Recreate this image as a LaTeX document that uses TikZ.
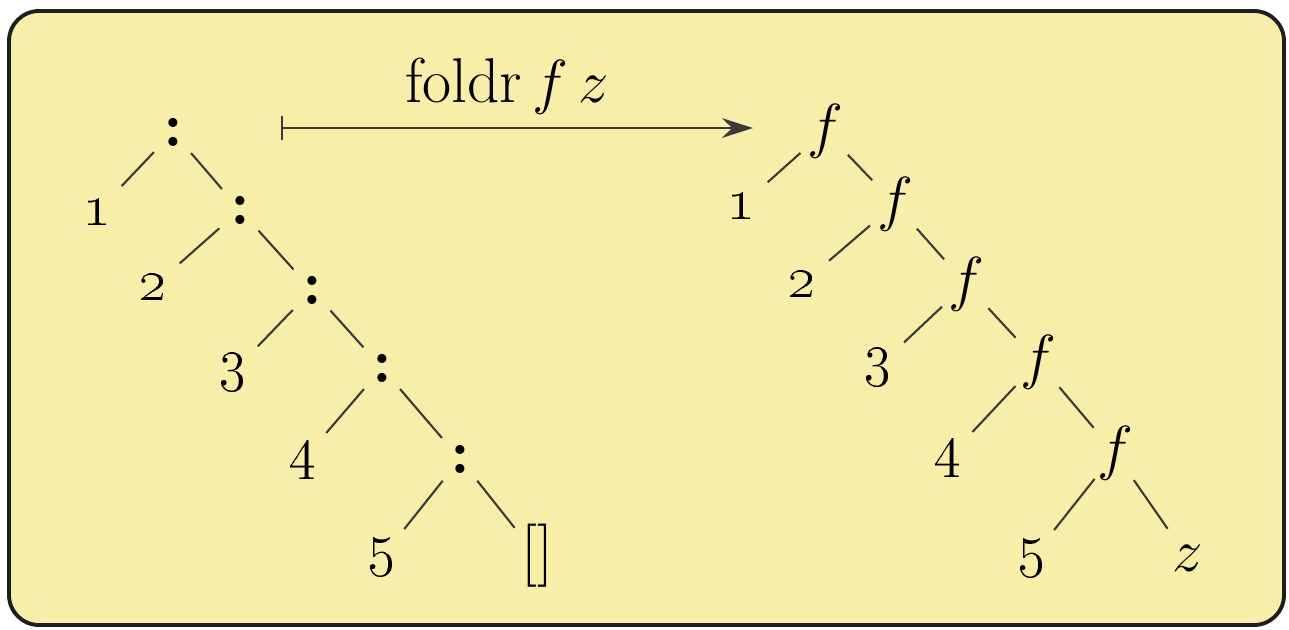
\documentclass[tikz,border=0pt]{standalone}
\usetikzlibrary{arrows.meta}
\definecolor{paper}{HTML}{F7EFA9}
\definecolor{frame}{HTML}{1E1E1E}
\definecolor{twig}{HTML}{3A3A3A}

\begin{document}
\begin{tikzpicture}[x=0.01cm,y=-0.01cm,font=\fontsize{18}{22}\selectfont,
    op/.style={circle,inner sep=0pt,minimum size=5.4mm},
    leaf/.style={circle,inner sep=0pt,minimum size=7mm},
    twig/.style={draw=twig,line width=0.6pt}]
  \useasboundingbox (0,0) rectangle (1289,629);
  \draw[frame,line width=1.1pt,fill=paper,rounded corners=3mm] (9,11) rectangle (1284,625);

  % the list 1:2:3:4:5:[]
  \node[op] (c1) at (173,132) {\textbf{:}};
  \node[op] (c2) at (240,210) {\textbf{:}};
  \node[op] (c3) at (312,290) {\textbf{:}};
  \node[op] (c4) at (382,368) {\textbf{:}};
  \node[op] (c5) at (460,459) {\textbf{:}};
  \node[leaf] (a1) at (97,212) {\oldstylenums{1}};
  \node[leaf] (a2) at (153,287) {\oldstylenums{2}};
  \node[leaf] (a3) at (233,372) {\oldstylenums{3}};
  \node[leaf] (a4) at (303,460) {\oldstylenums{4}};
  \node[leaf] (a5) at (382,557) {\oldstylenums{5}};
  \node[leaf] (nil) at (537,556) {[]};

  % after folding
  \node[op] (f1) at (825,131) {$f$};
  \node[op] (f2) at (895,204) {$f$};
  \node[op] (f3) at (966,284) {$f$};
  \node[op] (f4) at (1038,362) {$f$};
  \node[op] (f5) at (1115,453) {$f$};
  \node[leaf] (b1) at (741,206) {\oldstylenums{1}};
  \node[leaf] (b2) at (802,284) {\oldstylenums{2}};
  \node[leaf] (b3) at (878,367) {\oldstylenums{3}};
  \node[leaf] (b4) at (948,458) {\oldstylenums{4}};
  \node[leaf] (b5) at (1032,558) {\oldstylenums{5}};
  \node[leaf] (z) at (1188,558) {$z$};

  \foreach \p/\c in {c1/a1,c1/c2,c2/a2,c2/c3,c3/a3,c3/c4,c4/a4,c4/c5,c5/a5,c5/nil,
                     f1/b1,f1/f2,f2/b2,f2/f3,f3/b3,f3/f4,f4/b4,f4/f5,f5/b5,f5/z}
    \draw[twig] (\p) -- (\c);

  \coordinate (from) at (281,128);
  \coordinate (to) at (753,128);
  \draw[draw=twig,line width=0.7pt,{Bar[width=7pt]}-{Stealth[length=8.8pt,width=5.6pt]}] (from) -- (to);
  \node (lbl) at (507,86) {foldr\,$f\,z$};
\end{tikzpicture}
\end{document}
